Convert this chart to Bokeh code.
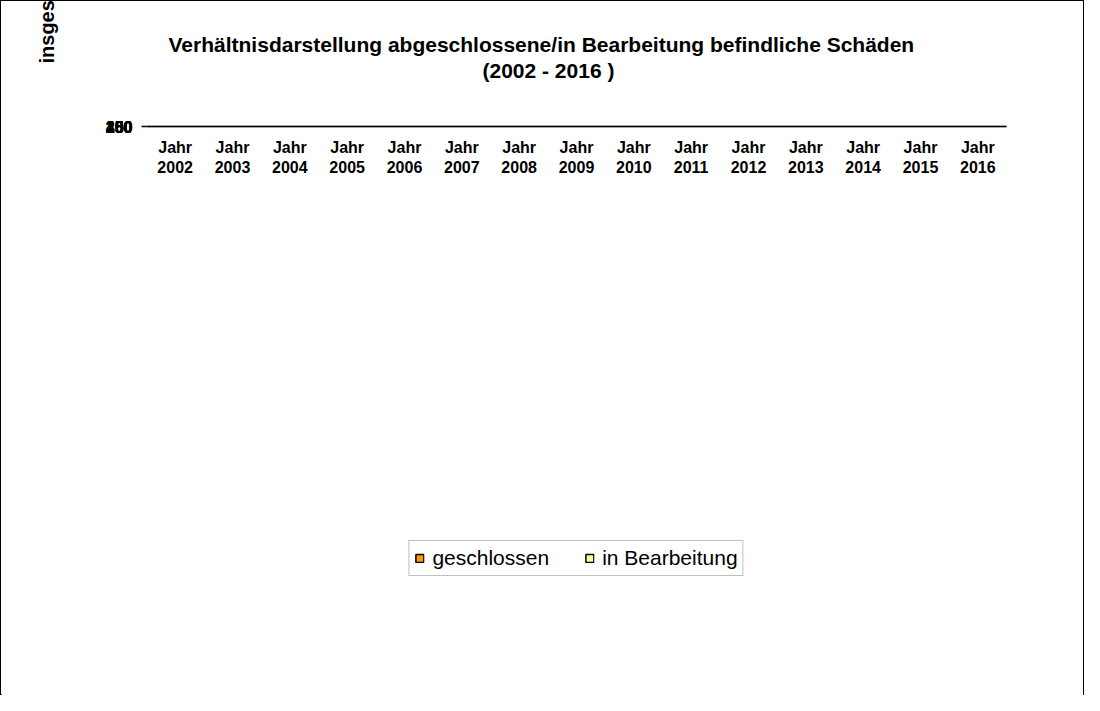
from bokeh.plotting import figure
from bokeh.models import (FactorRange, Range1d, FixedTicker,
                          Title, Legend, LegendItem, ColumnDataSource)
from bokeh.transform import dodge
from bokeh.core.properties import value
from bokeh.embed import file_html
from bokeh.resources import INLINE

# ---- data ----
years = ["2002", "2003", "2004", "2005", "2006", "2007", "2008", "2009",
         "2010", "2011", "2012", "2013", "2014", "2015", "2016"]
year_prefix = "Jahr"
geschlossen = [139, 172, 243, 302, 315, 332, 290, 234, 232, 151, 145, 131, 61, 43, 17]
in_bearbeitung = [20, 25, 41, 87, 135, 150, 193, 159, 263, 306, 292, 316, 333, 372, 369]
y_ticks = [0, 50, 100, 150, 200, 250, 300, 350, 400]

title_line1 = "Verhältnisdarstellung abgeschlossene/in Bearbeitung befindliche Schäden"
title_line2 = "(2002 - 2016 )"
ylabel_line1 = "insgesamt 2.807 abgeschlossene und 3.061 in"
ylabel_line2 = "Bearbeitung befindliche Schäden"

FONT = "Liberation Sans"
ORANGE = "#FF9900"
YELLOW = "#FFFF99"

cats = [year_prefix + "\n" + y for y in years]
src = ColumnDataSource(dict(
    cat=cats,
    g=geschlossen,
    b=in_bearbeitung,
    gl=[str(v) for v in geschlossen],
    bl=[str(v) for v in in_bearbeitung],
))

p = figure(x_range=FactorRange(*cats, range_padding=0), y_range=Range1d(0, 400),
           width=1084, height=695, output_backend="svg", toolbar_location=None,
           min_border_left=145, min_border_right=79, min_border_top=125, min_border_bottom=97,
           background_fill_color="#C0C0C0", border_fill_color="white")
p.styles = {"border": "1px solid #000000"}
p.outline_line_color = "#808080"
p.outline_line_width = 1.5
p.xgrid.visible = False

# y axis
p.yaxis.ticker = FixedTicker(ticks=y_ticks)
p.yaxis.major_label_text_font = FONT
p.yaxis.major_label_text_font_style = "bold"
p.yaxis.major_label_text_font_size = "16px"
p.yaxis.major_label_text_color = "black"
p.yaxis.axis_line_color = "black"
p.yaxis.axis_line_width = 1.5
p.yaxis.major_tick_line_color = "black"
p.yaxis.major_tick_line_width = 1.5
p.yaxis.major_tick_out = 5
p.yaxis.major_tick_in = 0
p.yaxis.minor_tick_line_color = None
p.yaxis.major_label_standoff = 9
p.ygrid.grid_line_color = "#4d4d4d"
p.ygrid.grid_line_width = 1.5

# x axis (categorical, two-line labels)
p.xaxis.major_tick_line_color = None
p.xaxis.major_tick_out = 0
p.xaxis.major_tick_in = 0
p.xaxis.axis_line_color = "black"
p.xaxis.axis_line_width = 1.5
p.xaxis.major_label_text_font = FONT
p.xaxis.major_label_text_font_style = "bold"
p.xaxis.major_label_text_font_size = "16px"
p.xaxis.major_label_text_color = "black"
p.xaxis.major_label_standoff = 12

# bars
w = 0.28
rg = p.vbar(x=dodge("cat", -0.14, range=p.x_range), top="g", width=w, source=src,
            fill_color=ORANGE, line_color="black", line_width=1.5)
rb = p.vbar(x=dodge("cat", 0.14, range=p.x_range), top="b", width=w, source=src,
            fill_color=YELLOW, line_color="black", line_width=1.5)

# value labels
p.text(x=dodge("cat", -0.12, range=p.x_range), y="g", text="gl", source=src,
       text_font=value(FONT), text_font_style="bold", text_font_size="16px",
       text_align="center", text_baseline="middle", y_offset=-36, text_color="black")
p.text(x=dodge("cat", 0.18, range=p.x_range), y="b", text="bl", source=src,
       text_font=value(FONT), text_font_style="bold", text_font_size="16px",
       text_align="center", text_baseline="middle", y_offset=-12, text_color="black")

# titles (spacer first so that the two title lines sit higher above the plot)
p.add_layout(Title(text=" ", standoff=19, text_font=FONT, text_font_size="21px"), "above")
p.add_layout(Title(text=title_line2, align="left", offset=336, standoff=2,
                   text_color="black", text_font=FONT, text_font_style="bold",
                   text_font_size="21px"), "above")
p.add_layout(Title(text=title_line1, align="left", offset=22, standoff=0,
                   text_color="black", text_font=FONT, text_font_style="bold",
                   text_font_size="21px"), "above")

# y axis label (two lines)
p.add_layout(Title(text=" ", standoff=5, text_font=FONT, text_font_size="20px"), "left")
p.add_layout(Title(text=ylabel_line2, align="left", offset=125, standoff=-8,
                   text_color="black", text_font=FONT, text_font_style="bold",
                   text_font_size="20px"), "left")
p.add_layout(Title(text=ylabel_line1, align="left", offset=63, standoff=0,
                   text_color="black", text_font=FONT, text_font_style="bold",
                   text_font_size="20px"), "left")

# legend
legend = Legend(items=[LegendItem(label="geschlossen", renderers=[rg]),
                       LegendItem(label="in Bearbeitung", renderers=[rb])],
                orientation="horizontal", location="center",
                border_line_color="#808080", border_line_width=1.5,
                label_text_font=FONT, label_text_font_size="21px", label_text_color="black",
                glyph_width=10, glyph_height=10, label_standoff=8, spacing=35,
                padding=5, margin=6, background_fill_alpha=1)
p.add_layout(legend, "below")

open("out.html", "w").write(file_html(p, INLINE))
